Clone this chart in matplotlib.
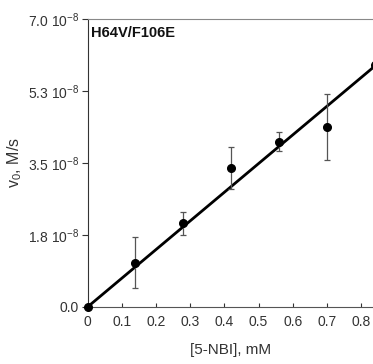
import matplotlib
matplotlib.use("Agg")
import matplotlib.pyplot as plt
import numpy as np

plt.rcParams['font.family'] = ['Liberation Sans', 'DejaVu Sans']
plt.rcParams['mathtext.fontset'] = 'custom'
plt.rcParams['mathtext.rm'] = 'Liberation Sans'
plt.rcParams['mathtext.it'] = 'Liberation Sans:italic'

# data (conc in mM, rate in units of 1e-8 M/s)
conc = [0.0, 0.14, 0.28, 0.42, 0.56, 0.70, 0.84]
rate = [0.0, 1.08, 2.03, 3.38, 4.02, 4.37, 5.88]
err = [0.0, 0.61, 0.27, 0.50, 0.23, 0.80, 0.08]
fit_slope = 6.97  # 1e-8 M/s per mM
fit_x = [0.0, 0.9]
xticks = [0, 0.1, 0.2, 0.3, 0.4, 0.5, 0.6, 0.7, 0.8]
xticklabels = ['0', '0.1', '0.2', '0.3', '0.4', '0.5', '0.6', '0.7', '0.8']
yticks = [0.0, 1.75, 3.5, 5.25, 7.0]
yticklabels = ['0.0', r'1.8 10$^{-8}$', r'3.5 10$^{-8}$', r'5.3 10$^{-8}$', r'7.0 10$^{-8}$']

W, H = 373, 364
fig = plt.figure(figsize=(W / 100, H / 100), dpi=100)
left, right, top, bottom = 87.5, 373, 19, 307
ax = fig.add_axes([left / W, (H - bottom) / H, (right - left) / W, (bottom - top) / H])

ax.plot(fit_x, [fit_slope * x for x in fit_x], color='black', lw=2.0, zorder=3)
ax.errorbar(conc, rate, yerr=err, fmt='o', color='black', ms=5.5,
            ecolor='#555555', elinewidth=0.9, capsize=2.5, capthick=0.9,
            zorder=4, clip_on=False)

ax.set_xlim(0, (right - left) / 34.2 * 0.1)
ax.set_ylim(0, 7.0)
ax.set_xticks(xticks)
ax.set_xticklabels(xticklabels)
ax.set_yticks(yticks)
ax.set_yticklabels(yticklabels)

ax.spines['right'].set_visible(False)
ax.spines['top'].set_color('#888888')
ax.spines['left'].set_color('#333333')
ax.spines['bottom'].set_color('#555555')
ax.tick_params(axis='both', width=0.8, colors='#333333', labelsize=10)
ax.tick_params(axis='x', direction='in', length=3, pad=6)
ax.tick_params(axis='y', direction='out', length=4, pad=2)

ax.set_xlabel('[5-NBI], mM', fontsize=11, color='#333333', labelpad=10)
ax.set_ylabel(r'v$_0$, M/s', fontsize=11.5, color='#333333', labelpad=3)
ax.text(0.012, 0.975, 'H64V/F106E', transform=ax.transAxes, fontsize=10.5,
        fontweight='bold', va='top', ha='left', color='#111111')

fig.savefig('out.png', dpi=100)
